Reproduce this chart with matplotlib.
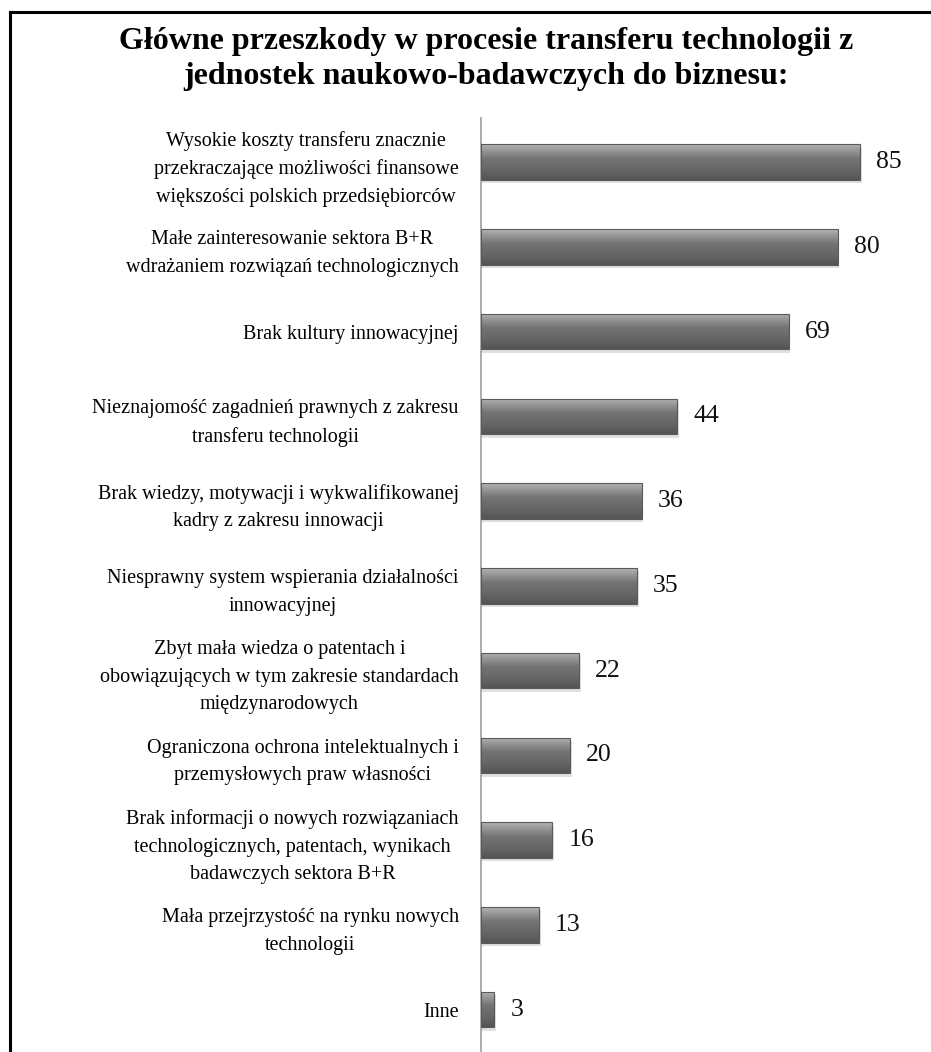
import matplotlib
matplotlib.use("Agg")
import matplotlib.pyplot as plt
import numpy as np
from matplotlib.patches import Rectangle
from matplotlib.colors import LinearSegmentedColormap

plt.rcParams['font.family'] = ['Liberation Serif', 'DejaVu Serif']

title = "Główne przeszkody w procesie transferu technologii z\njednostek naukowo-badawczych do biznesu:"
categories = [
    "Wysokie koszty transferu znacznie\nprzekraczające możliwości finansowe\nwiększości polskich przedsiębiorców",
    "Małe zainteresowanie sektora B+R\nwdrażaniem rozwiązań technologicznych",
    "Brak kultury innowacyjnej",
    "Nieznajomość zagadnień prawnych z zakresu\ntransferu technologii",
    "Brak wiedzy, motywacji i wykwalifikowanej\nkadry z zakresu innowacji",
    "Niesprawny system wspierania działalności\ninnowacyjnej",
    "Zbyt mała wiedza o patentach i\nobowiązujących w tym zakresie standardach\nmiędzynarodowych",
    "Ograniczona ochrona intelektualnych i\nprzemysłowych praw własności",
    "Brak informacji o nowych rozwiązaniach\ntechnologicznych, patentach, wynikach\nbadawczych sektora B+R",
    "Mała przejrzystość na rynku nowych\ntechnologii",
    "Inne",
]
values = [85, 80, 69, 44, 36, 35, 22, 20, 16, 13, 3]

W, H = 931, 1052
fig = plt.figure(figsize=(W / 100, H / 100), dpi=100)
fig.patch.set_facecolor('white')

# frame (left and top border visible)
fig.add_artist(plt.Line2D([10 / W, 10 / W], [0, 1 - 12 / H], color='black', lw=2.2, transform=fig.transFigure))
fig.add_artist(plt.Line2D([10 / W, 1], [1 - 12 / H, 1 - 12 / H], color='black', lw=2.2, transform=fig.transFigure))

fig.text(486 / W, 1 - 59 / H, title, ha='center', va='center', fontsize=23,
         fontweight='bold', linespacing=1.3, color='black')

ax = fig.add_axes([481 / W, 0, 446 / W, (H - 118) / H])
ax.set_xlim(0, 100)
ax.set_ylim(10.5, -0.52)

bar_h = 0.42
y = np.arange(len(values))
cmap = LinearSegmentedColormap.from_list(
    'cyl', [(0, '#555555'), (0.25, '#646464'), (0.6, '#747474'), (0.85, '#9a9a9a'), (1.0, '#b4b4b4')])
grad = np.linspace(0, 1, 64).reshape(-1, 1)

for yi, v in zip(y, values):
    # shadow
    ax.add_patch(Rectangle((0, yi - bar_h / 2 + 0.04), v + 0.35, bar_h, facecolor='#000000',
                           alpha=0.12, edgecolor='none', zorder=1))
    im = ax.imshow(grad[::-1], extent=(0, v, yi + bar_h / 2, yi - bar_h / 2), origin='upper',
                   cmap=cmap, aspect='auto', zorder=2, interpolation='bilinear')
    rect = Rectangle((0, yi - bar_h / 2), v, bar_h, facecolor='none', edgecolor='#5a5a5a',
                     lw=0.8, zorder=3)
    ax.add_patch(rect)
    im.set_clip_path(rect)
    ax.text(v + 3.6, yi, str(v), ha='left', va='center', fontsize=18.5, color='#111111')

ax.set_yticks(y)
ax.set_yticklabels(categories, fontsize=14.5, multialignment='center', linespacing=1.6)
ax.tick_params(axis='y', length=0, pad=16)
ax.tick_params(axis='x', bottom=False, labelbottom=False)
for s in ['top', 'right', 'bottom']:
    ax.spines[s].set_visible(False)
ax.spines['left'].set_color('#a6a6a6')
ax.spines['left'].set_linewidth(1.3)
ax.set_facecolor('none')

fig.savefig('out.png', dpi=100)
